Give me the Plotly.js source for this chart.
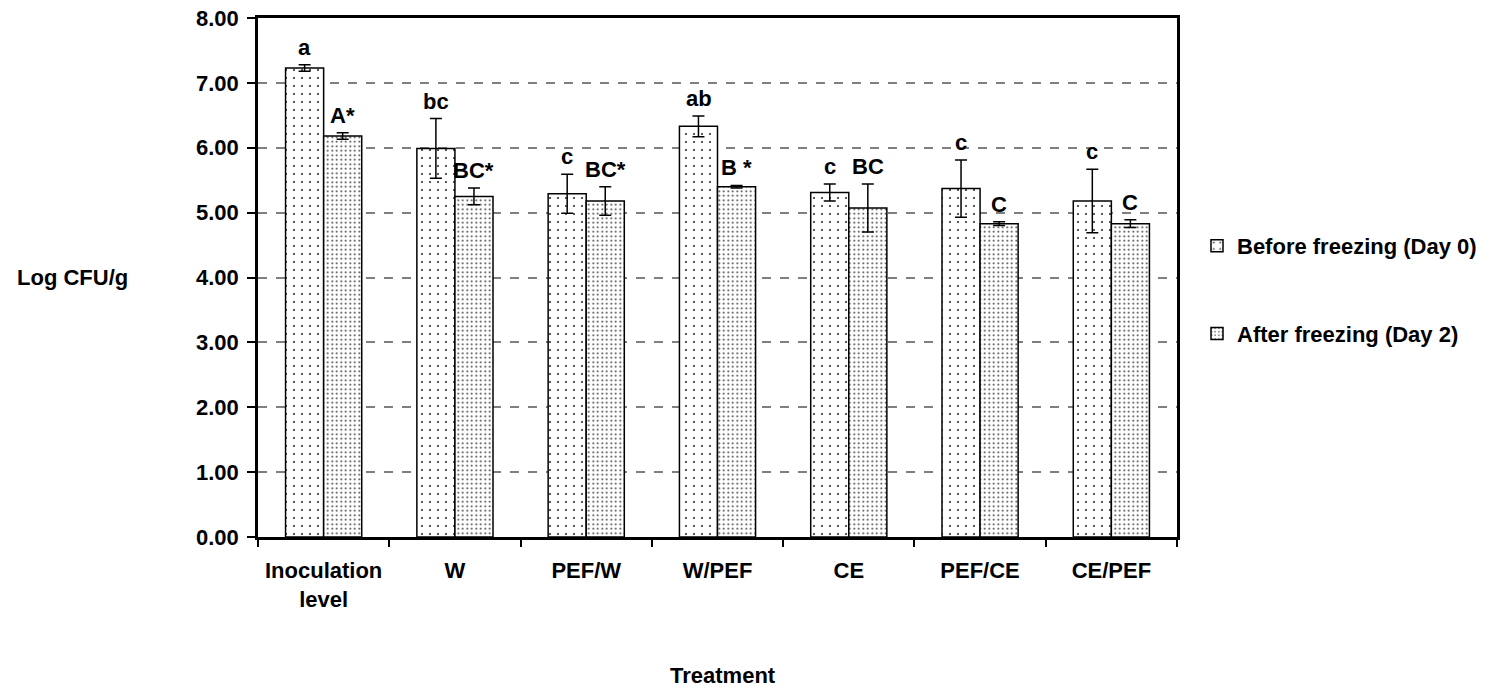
<!DOCTYPE html>
<html>
<head>
<meta charset="utf-8">
<script src="https://cdn.plot.ly/plotly-3.0.1.min.js"></script>
<style>html,body{margin:0;padding:0;background:#fff;}#chart{width:1494px;height:689px;}</style>
</head>
<body>
<div id="chart"></div>
<script>
var categories = ["Inoculation<br>level", "W", "PEF/W", "W/PEF", "CE", "PEF/CE", "CE/PEF"];
var beforeValues = [7.23, 5.99, 5.29, 6.33, 5.31, 5.37, 5.18];
var beforeErrors = [0.05, 0.46, 0.30, 0.16, 0.13, 0.44, 0.49];
var afterValues = [6.18, 5.25, 5.18, 5.40, 5.07, 4.83, 4.83];
var afterErrors = [0.05, 0.13, 0.22, 0.02, 0.37, 0.03, 0.06];
var beforeLabels = ["a", "bc", "c", "ab", "c", "c", "c"];
var afterLabels = ["A*", "BC*", "BC*", "B *", "BC", "C", "C"];
var seriesNames = ["Before freezing (Day 0)", "After freezing (Day 2)"];

var FONT = "Liberation Sans, Arial, sans-serif";
var FS = 22;

var traceBefore = {
  type: "bar", name: seriesNames[0], x: categories, y: beforeValues,
  legendgroup: "g1",
  marker: {color: "white", line: {color: "black", width: 1.5},
    pattern: {shape: ".", size: 8, solidity: 0.06, fgcolor: "#333", bgcolor: "white"}},
  error_y: {type: "data", array: beforeErrors, visible: true, color: "black", thickness: 1.5, width: 6}
};
var traceAfter = {
  type: "bar", name: seriesNames[1], x: categories, y: afterValues,
  legendgroup: "g2",
  marker: {color: "white", line: {color: "black", width: 1.5},
    pattern: {shape: ".", size: 4.5, solidity: 0.14, fgcolor: "#333", bgcolor: "white"}},
  error_y: {type: "data", array: afterErrors, visible: true, color: "black", thickness: 1.5, width: 6}
};

var annotations = [];
for (var i = 0; i < categories.length; i++) {
  annotations.push({x: categories[i], xshift: -19, y: beforeValues[i] + beforeErrors[i], yanchor: "bottom",
    yshift: 3, text: beforeLabels[i], showarrow: false, font: {family: FONT, size: FS, weight: "bold", color: "black"}});
  annotations.push({x: categories[i], xshift: 19, y: afterValues[i] + afterErrors[i], yanchor: "bottom",
    yshift: 3, text: afterLabels[i], showarrow: false, font: {family: FONT, size: FS, weight: "bold", color: "black"}});
}
annotations.push({xref: "paper", yref: "paper", x: (72 - 258) / 919, y: (537 - 277) / 519, xanchor: "center", yanchor: "middle",
  text: "Log CFU/g", showarrow: false, font: {family: FONT, size: FS, weight: "bold", color: "black"}});
annotations.push({xref: "paper", yref: "paper", x: (723 - 258) / 919, y: (537 - 675) / 519, xanchor: "center", yanchor: "middle",
  text: "Treatment", showarrow: false, font: {family: FONT, size: FS, weight: "bold", color: "black"}});

var layout = {
  width: 1494, height: 689,
  margin: {l: 258, r: 317, t: 18, b: 152},
  paper_bgcolor: "white", plot_bgcolor: "white",
  font: {family: FONT, size: FS, color: "black", weight: "bold"},
  barmode: "group", bargap: 0.42, bargroupgap: 0,
  showlegend: true,
  legend: {x: (1197 - 258) / 919, y: (537 - 290) / 519, xanchor: "left", yanchor: "middle",
    traceorder: "grouped", tracegroupgap: 56, font: {family: FONT, size: FS, weight: "bold"}},
  xaxis: {type: "category", showline: true, linecolor: "black", linewidth: 2.5, mirror: true,
    ticks: "outside", tickson: "boundaries", ticklen: 7, tickwidth: 2, tickcolor: "black",
    showgrid: false, ticklabelstandoff: 12, tickfont: {family: FONT, size: FS, weight: "bold"}},
  yaxis: {range: [0, 8], dtick: 1, tickformat: ".2f", showline: true, linecolor: "black", linewidth: 2.5, mirror: true,
    ticks: "outside", ticklen: 8, tickwidth: 2, tickcolor: "black", zeroline: false,
    showgrid: true, gridcolor: "#7f7f7f", gridwidth: 1.5, griddash: "dash",
    ticklabelstandoff: 4, tickfont: {family: FONT, size: FS, weight: "bold"}},
  annotations: annotations
};

Plotly.newPlot("chart", [traceBefore, traceAfter], layout, {displayModeBar: false});
</script>
</body>
</html>
